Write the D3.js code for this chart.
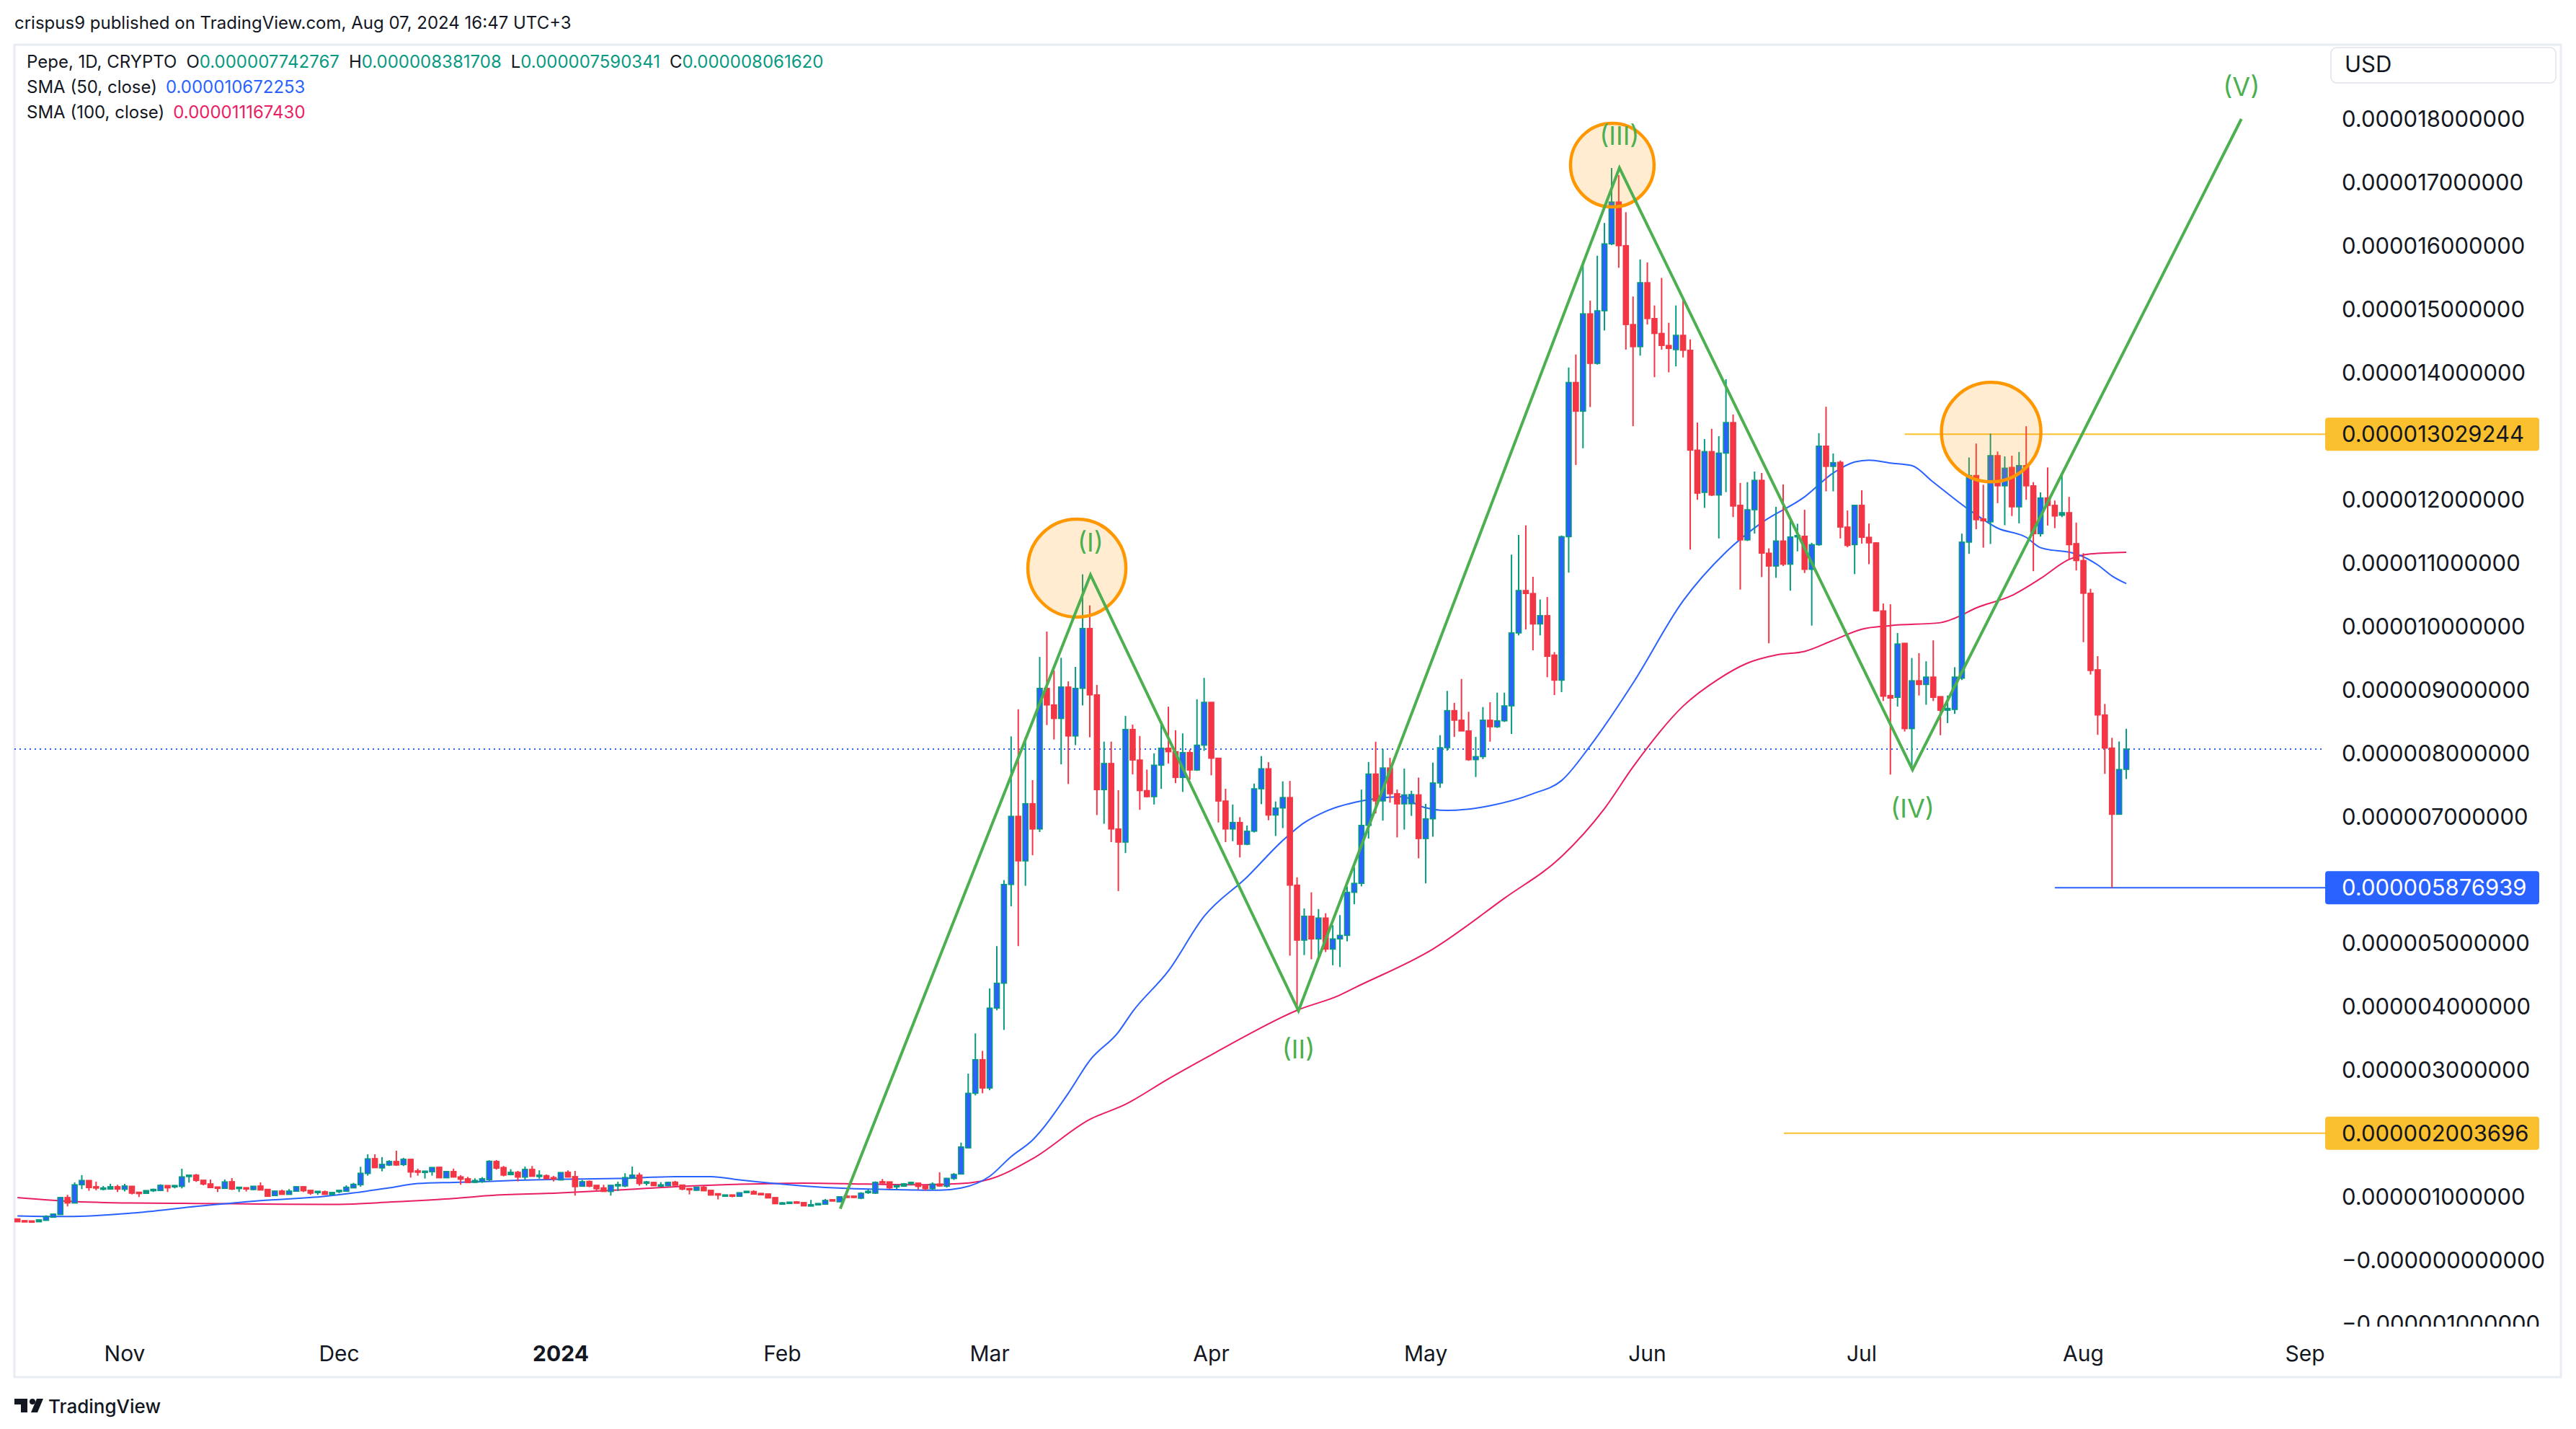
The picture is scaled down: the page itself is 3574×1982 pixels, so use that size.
<!DOCTYPE html>
<html>
<head>
<meta charset="utf-8">
<script src="https://cdn.jsdelivr.net/npm/d3@7"></script>
<style>
  html, body { margin: 0; padding: 0; background: #ffffff; }
  svg { display: block; }
  text { font-family: Inter, "Noto Sans", "DejaVu Sans", sans-serif; }
</style>
</head>
<body>
<svg id="chart" width="3574" height="1982"></svg>
<script>
// ---------------- DATA (prices in units of 0.000001 USD) ----------------
const startDate = new Date(Date.UTC(2023, 9, 17)); // first daily candle
const priceUnit = 1e-6;

const openP = [
0.653,0.626,0.622,0.607,0.630,0.679,0.721,0.990,0.903,1.191,
1.259,1.161,1.123,1.123,1.161,1.119,1.168,1.074,1.055,1.104,
1.100,1.180,1.168,1.165,1.335,1.343,1.263,1.206,1.157,1.134,
1.240,1.138,1.146,1.115,1.172,1.119,1.020,1.092,1.039,1.089,
1.161,1.104,1.077,1.081,1.035,1.089,1.089,1.142,1.191,1.369,
1.604,1.456,1.502,1.559,1.509,1.593,1.411,1.396,1.396,1.468,
1.301,1.400,1.316,1.286,1.229,1.237,1.271,1.559,1.464,1.350,
1.388,1.312,1.434,1.335,1.335,1.305,1.267,1.388,1.320,1.168,
1.244,1.183,1.142,1.085,1.183,1.172,1.293,1.343,1.229,1.229,
1.176,1.176,1.233,1.187,1.134,1.104,1.153,1.104,1.051,1.020,
1.032,1.009,1.074,1.085,1.055,1.047,0.990,0.896,0.907,0.922,
0.911,0.869,0.881,0.884,0.956,0.922,1.013,1.013,0.979,1.077,
1.058,1.240,1.237,1.168,1.168,1.214,1.218,1.172,1.130,1.202,
1.168,1.290,1.360,1.773,2.634,3.164,2.717,3.977,4.370,5.927,
7.002,6.299,7.201,6.802,9.020,8.758,8.545,9.041,8.269,9.020,
9.964,8.917,7.422,7.835,6.802,6.595,8.372,7.890,7.408,7.312,
7.808,8.076,8.021,7.615,8.007,7.732,8.124,8.800,7.918,7.243,
6.802,6.905,6.561,6.767,7.436,7.752,7.022,7.133,7.298,5.916,
5.049,5.426,5.068,5.398,4.908,5.068,5.124,5.803,5.945,6.859,
7.669,7.245,7.764,7.358,7.198,7.200,7.340,6.651,6.962,7.528,
8.084,8.669,8.518,8.348,7.895,7.943,8.518,8.414,8.508,8.744,
9.894,10.563,10.516,10.036,10.167,9.545,9.149,11.412,13.844,13.391,
14.927,14.145,14.975,16.030,16.690,16.002,14.758,14.409,15.418,14.852,
14.617,14.428,14.362,14.588,14.352,12.777,12.110,12.754,12.069,12.730,
13.212,11.907,11.361,11.837,12.301,11.152,10.949,11.344,10.978,11.413,
11.419,10.897,11.286,12.840,12.521,12.585,11.564,11.286,11.907,11.402,
11.315,10.242,8.907,8.878,9.731,8.385,9.140,9.081,9.198,8.890,
8.675,8.687,9.180,11.326,12.376,11.692,11.646,12.690,12.214,12.504,
11.883,12.533,12.214,11.460,12.023,11.906,11.750,11.791,11.303,11.036,
10.520,9.313,8.600,8.078,7.034,7.743
];
const highP = [
0.653,0.630,0.626,0.645,0.710,0.735,0.998,1.032,1.229,1.343,
1.262,1.240,1.172,1.206,1.191,1.206,1.172,1.077,1.104,1.130,
1.199,1.183,1.187,1.445,1.343,1.362,1.263,1.274,1.157,1.274,
1.297,1.157,1.146,1.172,1.229,1.119,1.096,1.115,1.123,1.165,
1.165,1.108,1.092,1.100,1.074,1.108,1.183,1.221,1.475,1.672,
1.672,1.627,1.578,1.729,1.616,1.597,1.445,1.411,1.468,1.472,
1.404,1.445,1.343,1.316,1.293,1.312,1.578,1.581,1.487,1.437,
1.411,1.479,1.487,1.419,1.354,1.331,1.388,1.419,1.411,1.267,
1.259,1.187,1.191,1.187,1.240,1.373,1.479,1.381,1.252,1.237,
1.233,1.240,1.252,1.191,1.138,1.157,1.172,1.108,1.055,1.035,
1.035,1.070,1.092,1.104,1.062,1.051,0.994,0.918,0.922,0.933,
0.915,0.952,0.899,0.967,0.964,1.005,1.032,1.017,1.074,1.115,
1.244,1.282,1.240,1.183,1.218,1.240,1.221,1.176,1.229,1.388,
1.297,1.377,1.856,2.944,3.578,3.302,4.288,4.955,5.996,8.262,
8.689,8.249,7.573,9.516,9.916,9.302,9.502,9.130,9.358,10.818,
10.329,9.075,8.180,8.180,7.415,8.586,8.448,8.269,7.739,7.994,
8.503,8.731,8.359,8.310,8.056,8.848,9.185,8.800,7.925,7.436,
7.188,6.988,6.857,7.518,7.952,7.856,7.236,7.553,7.560,6.040,
5.548,5.803,5.539,5.473,5.285,5.445,5.897,6.199,7.424,7.858,
8.178,8.065,7.924,7.424,7.754,7.405,7.613,7.198,7.848,8.282,
8.980,8.791,9.168,8.650,8.254,8.725,8.801,8.952,8.952,11.129,
11.440,11.590,10.780,10.422,10.460,9.592,11.430,14.079,14.286,15.748,
15.135,15.842,16.360,17.227,17.114,16.530,15.201,15.785,15.738,15.059,
15.493,14.786,15.059,15.182,14.522,13.212,12.951,13.113,12.997,13.896,
13.339,12.260,12.272,12.440,12.417,11.228,11.883,12.237,11.715,11.617,
11.837,11.315,13.044,13.461,12.724,12.614,11.825,11.907,12.144,11.617,
11.326,10.358,10.346,9.894,9.731,9.499,9.575,9.447,9.777,8.890,
8.907,9.354,11.460,12.661,12.881,12.231,13.038,12.754,12.678,12.690,
12.748,13.154,12.272,12.110,12.504,11.982,12.417,12.040,11.634,11.152,
10.590,9.528,8.774,8.240,8.182,8.382
];
const lowP = [
0.607,0.610,0.610,0.605,0.623,0.675,0.715,0.850,0.900,1.123,
1.096,1.104,1.104,1.120,1.077,1.085,1.039,0.998,1.050,1.077,
1.096,1.077,1.134,1.134,1.225,1.237,1.183,1.146,1.077,1.134,
1.108,1.077,1.085,1.108,1.104,1.005,1.017,1.035,1.035,1.085,
1.077,1.032,1.032,1.035,1.032,1.058,1.085,1.138,1.161,1.335,
1.456,1.403,1.487,1.491,1.487,1.305,1.335,1.290,1.335,1.297,
1.297,1.309,1.191,1.221,1.221,1.221,1.248,1.430,1.324,1.346,
1.244,1.274,1.320,1.286,1.282,1.244,1.259,1.309,1.020,1.161,
1.153,1.092,1.081,1.020,1.092,1.153,1.290,1.176,1.180,1.172,
1.172,1.168,1.180,1.104,1.039,1.100,1.092,1.024,0.960,1.009,
0.994,1.005,1.062,1.039,1.028,0.979,0.888,0.880,0.903,0.903,
0.854,0.858,0.873,0.880,0.933,0.918,0.994,0.979,0.964,1.047,
1.047,1.210,1.127,1.108,1.161,1.187,1.115,1.096,1.115,1.161,
1.146,1.267,1.355,1.770,2.600,2.634,2.682,3.943,3.633,5.583,
4.955,5.906,6.388,6.754,8.441,8.214,7.821,7.511,8.124,8.751,
8.249,7.022,6.884,6.595,5.823,6.423,7.663,7.105,7.300,7.188,
7.436,7.835,7.525,7.387,7.580,7.718,8.035,7.649,6.905,6.595,
6.609,6.354,6.547,6.747,7.194,6.940,6.692,6.816,4.804,3.946,
4.814,4.748,4.785,4.861,4.653,4.625,5.030,5.615,5.897,6.651,
7.047,6.934,7.217,6.670,6.793,7.009,6.340,5.945,6.680,7.452,
8.037,8.254,8.348,7.877,7.622,7.905,8.179,8.396,8.490,8.301,
9.856,9.950,9.620,9.856,9.196,8.914,8.961,10.846,12.543,12.807,
13.457,14.126,14.664,16.011,15.653,14.362,13.155,14.268,14.758,13.928,
14.362,14.004,14.098,14.239,11.210,11.994,11.866,12.052,11.384,12.115,
11.721,10.578,11.344,11.460,10.775,9.731,10.764,10.949,10.561,11.181,
10.839,10.010,11.268,12.127,12.127,11.384,11.245,10.822,11.303,10.978,
10.230,8.820,7.660,8.733,8.339,7.736,8.907,8.762,8.820,8.281,
8.472,8.617,9.151,11.141,11.529,11.239,11.297,11.941,11.593,11.738,
11.622,11.994,10.868,11.413,11.588,11.547,11.721,11.065,10.880,9.749,
9.238,8.287,7.672,5.877,7.034,7.590
];
const closeP = [
0.607,0.615,0.614,0.638,0.691,0.729,0.990,0.903,1.191,1.259,
1.146,1.146,1.142,1.161,1.123,1.172,1.058,1.062,1.100,1.119,
1.183,1.142,1.180,1.316,1.343,1.259,1.202,1.146,1.146,1.237,
1.123,1.153,1.130,1.168,1.108,1.009,1.092,1.039,1.092,1.161,
1.096,1.058,1.089,1.039,1.070,1.104,1.153,1.199,1.373,1.600,
1.460,1.513,1.559,1.502,1.593,1.392,1.388,1.407,1.464,1.301,
1.400,1.312,1.278,1.225,1.259,1.286,1.562,1.453,1.343,1.388,
1.312,1.434,1.324,1.343,1.286,1.286,1.384,1.312,1.161,1.240,
1.168,1.127,1.085,1.183,1.195,1.305,1.343,1.210,1.237,1.176,
1.191,1.229,1.183,1.123,1.127,1.153,1.096,1.028,1.039,1.032,
1.013,1.066,1.089,1.043,1.039,0.983,0.892,0.907,0.918,0.907,
0.858,0.877,0.896,0.945,0.937,1.002,1.002,0.998,1.058,1.089,
1.229,1.221,1.142,1.180,1.206,1.229,1.165,1.130,1.202,1.172,
1.293,1.354,1.787,2.634,3.164,2.717,3.977,4.370,5.927,7.002,
6.299,7.201,6.802,9.020,8.758,8.545,9.041,8.269,9.020,9.964,
8.917,7.422,7.835,6.802,6.595,8.372,7.890,7.408,7.312,7.808,
8.076,8.021,7.615,8.007,7.732,8.124,8.800,7.918,7.243,6.802,
6.905,6.561,6.767,7.436,7.752,7.022,7.133,7.298,5.916,5.049,
5.426,5.068,5.398,4.908,5.068,5.124,5.803,5.945,6.859,7.669,
7.245,7.764,7.358,7.198,7.340,7.345,6.651,6.962,7.528,8.084,
8.669,8.518,8.348,7.895,7.943,8.518,8.414,8.508,8.744,9.894,
10.563,10.516,10.036,10.167,9.526,9.149,11.412,13.844,13.391,14.927,
14.145,14.975,16.030,16.690,16.002,14.758,14.409,15.418,14.852,14.617,
14.428,14.381,14.588,14.352,12.777,12.098,12.754,12.069,12.730,13.212,
11.895,11.361,11.837,12.301,11.152,10.949,11.344,10.978,11.408,11.431,
10.897,11.286,12.840,12.521,12.579,11.564,11.274,11.907,11.402,11.315,
10.242,8.896,8.867,9.720,8.385,9.140,9.081,9.198,8.878,8.675,
8.704,9.198,11.326,12.376,11.680,11.663,12.690,12.214,12.492,11.883,
12.533,12.214,11.460,12.023,11.906,11.738,11.791,11.286,11.036,10.520,
9.302,8.600,8.078,7.034,7.740,8.062
];

// SMA lines (day index from startDate, value)
const sma50Day = [0,7,16,25,34,43,47,52,56,61,65,70,75,84,92,97,101,110,116,123,129,132,136,139,142,147,150,154,156,161,166,172,177,180,183,189,194,196,200,206,212,216,220,226,233,239,244,250,254,257,259,262,265,268,273,277,281,283,288,291,293,295];
const sma50Val = [0.70,0.69,0.744,0.85,0.941,1.009,1.062,1.142,1.21,1.229,1.24,1.262,1.275,1.29,1.318,1.32,1.267,1.172,1.134,1.115,1.105,1.139,1.325,1.635,1.897,2.634,3.151,3.598,3.922,4.563,5.424,6.044,6.62,6.90,7.08,7.264,7.311,7.17,7.094,7.17,7.358,7.566,8.112,9.102,10.40,11.17,11.634,12.04,12.417,12.591,12.62,12.574,12.533,12.272,11.837,11.547,11.402,11.239,11.141,10.967,10.793,10.672];
const sma100Day = [0,7,16,25,34,43,47,52,61,66,75,84,92,101,110,119,127,132,136,142,150,155,161,167,172,179,185,187,198,208,216,222,226,233,238,242,246,250,254,258,262,269,271,274,279,283,287,290,295];
const sma100Val = [0.99,0.933,0.903,0.896,0.888,0.88,0.888,0.918,0.975,1.02,1.058,1.108,1.161,1.199,1.218,1.202,1.191,1.21,1.28,1.601,2.221,2.46,2.861,3.24,3.55,3.943,4.184,4.295,4.908,5.709,6.368,7.123,7.782,8.74,9.17,9.418,9.546,9.603,9.778,9.952,10.01,10.056,10.126,10.288,10.485,10.752,11.054,11.141,11.167];

// Elliott wave annotation (day index, price)
const waveDay = [115.1, 150.1, 179.2, 224.1, 265.1, 311.1];
const wavePrice = [0.812, 10.811, 3.935, 17.228, 7.736, 18.0];
const waveLabels = ["", "(I)", "(II)", "(III)", "(IV)", "(V)"];
const waveLabelSide = [0, -1, 1, -1, 1, -1];

// highlight circles (day index, price)
const circleDay = [148.2, 223.1, 276.1];
const circlePrice = [10.917, 17.272, 13.061];
const circleRadius = [68, 58, 69];

// horizontal lines (price, start day index, colour key)
const hLinePrice = [13.029244, 5.876939, 2.003696];
const hLineStart = [264.0, 285.0, 247.1];
const hLineLabel = ["0.000013029244", "0.000005876939", "0.000002003696"];
const hLineKind = ["yellow", "blue", "yellow"];

const lastClose = 8.061620;

// axis ticks
const priceTicks = [18,17,16,15,14,13,12,11,10,9,8,7,6,5,4,3,2,1,0,-1];
const priceTickLabels = ["0.000018000000","0.000017000000","0.000016000000","0.000015000000","0.000014000000","0.000013000000","0.000012000000","0.000011000000","0.000010000000","0.000009000000","0.000008000000","0.000007000000","0.000006000000","0.000005000000","0.000004000000","0.000003000000","0.000002000000","0.000001000000","\u22120.000000000000","\u22120.000001000000"];
const monthTickLabels = ["Nov","Dec","2024","Feb","Mar","Apr","May","Jun","Jul","Aug","Sep"];

// legend
const legendTitle = "Pepe, 1D, CRYPTO";
const legendOHLC = [["O","0.000007742767"],["H","0.000008381708"],["L","0.000007590341"],["C","0.000008061620"]];
const sma50Legend = ["SMA (50, close)", "0.000010672253"];
const sma100Legend = ["SMA (100, close)", "0.000011167430"];
const publishLine = "crispus9 published on TradingView.com, Aug 07, 2024 16:47 UTC+3";

// ---------------- LAYOUT ----------------
const W = 3574, H = 1982;
const paneTop = 62;
const plotLeft = 20, plotRight = 3226, plotTop = paneTop + 2, plotBottom = 1840;
const paneRight = 3553, paneBottom = 1910;

const C = {
  up: "#089981", upBody: "#2962ff", down: "#f23645",
  sma50: "#2962ff", sma100: "#e91e63", wave: "#4caf50",
  circleStroke: "#ff9800", circleFill: "rgba(255,152,0,0.18)",
  yellow: "#fbc02d", blue: "#2962ff", text: "#131722", border: "#e0e3eb"
};

const svg = d3.select("#chart");
svg.append("rect").attr("width", W).attr("height", H).attr("fill", "#fff");

const dayToDate = d => new Date(startDate.getTime() + d * 86400000);
const x = d3.scaleUtc()
  .domain([new Date(Date.UTC(2023, 10, 1)), new Date(Date.UTC(2024, 8, 1))])
  .range([173, 3198]);
const y = d3.scaleLinear().domain([0, 18]).range([1748, 165]);
const xd = d => x(dayToDate(d));

// publish line
svg.append("text").attr("x", 20).attr("y", 40).attr("font-size", 24)
  .attr("fill", C.text).text(publishLine);

// pane border
svg.append("rect").attr("x", 20).attr("y", paneTop).attr("width", paneRight - 20)
  .attr("height", paneBottom - paneTop).attr("fill", "none")
  .attr("stroke", "#e9ecf2").attr("stroke-width", 3);

// clip
svg.append("clipPath").attr("id", "plotclip").append("rect")
  .attr("x", plotLeft).attr("y", plotTop).attr("width", plotRight - plotLeft).attr("height", plotBottom - plotTop);
svg.append("clipPath").attr("id", "axisclip").append("rect")
  .attr("x", plotRight).attr("y", plotTop).attr("width", paneRight - plotRight).attr("height", plotBottom - plotTop);

const plot = svg.append("g").attr("clip-path", "url(#plotclip)");

// current price dotted line
plot.append("line").attr("x1", plotLeft).attr("x2", plotRight)
  .attr("y1", y(lastClose)).attr("y2", y(lastClose))
  .attr("stroke", C.blue).attr("stroke-width", 2).attr("stroke-dasharray", "2,5");

// horizontal annotation lines
hLinePrice.forEach((p, k) => {
  plot.append("line").attr("x1", xd(hLineStart[k])).attr("x2", plotRight)
    .attr("y1", y(p)).attr("y2", y(p))
    .attr("stroke", hLineKind[k] === "yellow" ? C.yellow : C.blue).attr("stroke-width", 2);
});

// SMA lines
const lineGen = d3.line().x(d => xd(d[0])).y(d => y(d[1])).curve(d3.curveMonotoneX);
plot.append("path").datum(sma100Day.map((d, k) => [d, sma100Val[k]]))
  .attr("d", lineGen).attr("fill", "none").attr("stroke", C.sma100).attr("stroke-width", 2);
plot.append("path").datum(sma50Day.map((d, k) => [d, sma50Val[k]]))
  .attr("d", lineGen).attr("fill", "none").attr("stroke", C.sma50).attr("stroke-width", 2);

// candles
const candles = openP.map((o, i) => ({ i, o, h: highP[i], l: lowP[i], c: closeP[i] }));
const bw = 7;
const cg = plot.append("g");
candles.forEach(d => {
  const cx = xd(d.i);
  const up = d.c >= d.o;
  const col = up ? C.up : C.down;
  cg.append("line").attr("x1", cx).attr("x2", cx).attr("y1", y(d.h)).attr("y2", y(d.l))
    .attr("stroke", col).attr("stroke-width", 2);
  const top = y(Math.max(d.o, d.c)), bot = y(Math.min(d.o, d.c));
  const hgt = Math.max(bot - top, 2);
  if (up) {
    cg.append("rect").attr("x", cx - bw / 2).attr("y", top).attr("width", bw).attr("height", hgt)
      .attr("fill", hgt > 4 ? C.upBody : C.up).attr("stroke", C.up).attr("stroke-width", 1.6);
  } else {
    cg.append("rect").attr("x", cx - bw / 2 - 0.8).attr("y", top - 0.8).attr("width", bw + 1.6).attr("height", hgt + 1.6)
      .attr("fill", C.down);
  }
});

// circles
circleDay.forEach((d, k) => {
  plot.append("circle").attr("cx", xd(d)).attr("cy", y(circlePrice[k])).attr("r", circleRadius[k])
    .attr("fill", C.circleFill).attr("stroke", C.circleStroke).attr("stroke-width", 4.5);
});

// wave path
const wavePts = waveDay.map((d, k) => [d, wavePrice[k]]);
plot.append("path").datum(wavePts)
  .attr("d", d3.line().x(d => xd(d[0])).y(d => y(d[1])))
  .attr("fill", "none").attr("stroke", C.wave).attr("stroke-width", 4).attr("stroke-linejoin", "miter");
wavePts.forEach((p, k) => {
  if (!waveLabels[k]) return;
  const side = waveLabelSide[k];
  const off = side < 0 ? -32 : 66;
  plot.append("text").attr("x", xd(p[0])).attr("y", y(p[1]) + off)
    .attr("text-anchor", "middle").attr("font-size", 36).attr("fill", C.wave).text(waveLabels[k]);
});

// price axis (tick labels hidden under the price-label boxes, as in TradingView)
const ax = svg.append("g").attr("clip-path", "url(#axisclip)");
priceTicks.forEach((t, k) => {
  const covered = hLinePrice.some(p => Math.abs(y(p) - y(t)) < 44);
  if (covered) return;
  ax.append("text").attr("x", 3249).attr("y", y(t)).attr("dy", "0.36em")
    .attr("font-size", 31).attr("fill", C.text).text(priceTickLabels[k]);
});
hLinePrice.forEach((p, k) => {
  const yellow = hLineKind[k] === "yellow";
  ax.append("rect").attr("x", plotRight).attr("y", y(p) - 23).attr("width", 297).attr("height", 46)
    .attr("rx", 4).attr("fill", yellow ? C.yellow : C.blue);
  ax.append("text").attr("x", 3249).attr("y", y(p)).attr("dy", "0.36em")
    .attr("font-size", 31).attr("fill", yellow ? C.text : "#ffffff").text(hLineLabel[k]);
});

// USD box
svg.append("rect").attr("x", 3234).attr("y", 66).attr("width", 312).attr("height", 49).attr("rx", 8)
  .attr("fill", "#fff").attr("stroke", "#e0e3eb").attr("stroke-width", 1.5);
svg.append("text").attr("x", 3253).attr("y", 100).attr("font-size", 31).attr("fill", C.text).text("USD");

// time axis
const monthTicks = d3.utcMonth.range(new Date(Date.UTC(2023, 10, 1)), new Date(Date.UTC(2024, 8, 2)));
monthTicks.forEach((m, k) => {
  svg.append("text").attr("x", x(m)).attr("y", 1877).attr("dy", "0.36em")
    .attr("text-anchor", "middle").attr("font-size", 30)
    .attr("font-weight", monthTickLabels[k] === "2024" ? 700 : 400)
    .attr("fill", C.text).text(monthTickLabels[k]);
});

// legend
const lg = svg.append("g").attr("font-size", 24);
const r1 = lg.append("text").attr("x", 37).attr("y", 94).attr("fill", C.text);
r1.append("tspan").text(legendTitle);
legendOHLC.forEach((p, k) => {
  r1.append("tspan").attr("dx", 13).attr("fill", C.text).text(p[0]);
  r1.append("tspan").attr("fill", C.up).text(p[1]);
});
const r2 = lg.append("text").attr("x", 37).attr("y", 129).attr("fill", C.text);
r2.append("tspan").text(sma50Legend[0]);
r2.append("tspan").attr("dx", 12).attr("fill", C.sma50).text(sma50Legend[1]);
const r3 = lg.append("text").attr("x", 37).attr("y", 164).attr("fill", C.text);
r3.append("tspan").text(sma100Legend[0]);
r3.append("tspan").attr("dx", 12).attr("fill", C.sma100).text(sma100Legend[1]);

// TradingView logo
const logo = svg.append("g").attr("fill", C.text);
logo.append("path").attr("d", "M20 1940 H38 V1959 H29 V1948 H20 Z");
logo.append("circle").attr("cx", 45).attr("cy", 1944).attr("r", 4);
logo.append("path").attr("d", "M51 1940 H60 L52 1959 H43 Z");
svg.append("text").attr("x", 67).attr("y", 1960).attr("font-size", 26).attr("font-weight", 500)
  .attr("fill", C.text).text("TradingView");
</script>
</body>
</html>
